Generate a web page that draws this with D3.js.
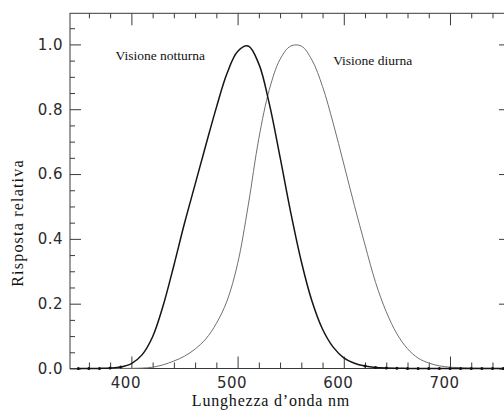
<!DOCTYPE html>
<html>
<head>
<meta charset="utf-8">
<script src="https://cdn.jsdelivr.net/npm/d3@7"></script>
<style>
  body { margin: 0; background: #fff; }
  svg { display: block; }
</style>
</head>
<body>
<svg id="chart" width="504" height="413"></svg>
<script>
// --------DATA--------------
// wavelength in nm, 10 nm steps
var wavelengths = [350, 360, 370, 380, 390, 400, 410, 420, 430, 440,
                   450, 460, 470, 480, 490, 500, 510, 520, 530, 540,
                   550, 560, 570, 580, 590, 600, 610, 620, 630, 640,
                   650, 660, 670, 680, 690, 700, 710, 720, 730, 740, 750];

// scotopic response (Visione notturna)
var nightResponse = [0, 0.0001, 0.0003, 0.0012, 0.0045, 0.015, 0.042, 0.098, 0.195, 0.318,
                     0.448, 0.568, 0.688, 0.805, 0.91, 0.978, 0.995, 0.94, 0.815, 0.652,
                     0.482, 0.33, 0.208, 0.121, 0.066, 0.033, 0.016, 0.0074, 0.0033, 0.0015,
                     0.0007, 0.0003, 0.0001, 0, 0, 0, 0, 0, 0, 0, 0];

// photopic response (Visione diurna)
var dayResponse = [0, 0, 0, 0, 0.0001, 0.0004, 0.0012, 0.004, 0.0116, 0.023,
                   0.038, 0.06, 0.091, 0.139, 0.208, 0.323, 0.503, 0.71, 0.862, 0.954,
                   0.995, 0.995, 0.952, 0.87, 0.757, 0.631, 0.503, 0.381, 0.265, 0.175,
                   0.107, 0.061, 0.032, 0.017, 0.0082, 0.0041, 0.0021, 0.001, 0.0005, 0.0003, 0.0001];

var xMajor = [400, 500, 600, 700];
var xMinor = [360, 380, 420, 440, 460, 480, 520, 540, 560, 580,
              620, 640, 660, 680, 720, 740];
var yMajor = [0, 0.2, 0.4, 0.6, 0.8, 1.0];
var yMinor = [0.05, 0.1, 0.15, 0.25, 0.3, 0.35, 0.45, 0.5, 0.55,
              0.65, 0.7, 0.75, 0.85, 0.9, 0.95, 1.05];

var xDomain = [342.2, 756.5];
var yDomain = [0, 1.096];

// --------SCALES--------------
var svg = d3.select("#chart");

var x = d3.scaleLinear().domain(xDomain).range([70, 510]);
var y = d3.scaleLinear().domain(yDomain).range([368.5, 13.3]);

var axisColor = "#3a3a3a";

// frame
svg.append("rect")
  .attr("x", x(xDomain[0]))
  .attr("y", y(yDomain[1]))
  .attr("width", x(xDomain[1]) - x(xDomain[0]))
  .attr("height", y(yDomain[0]) - y(yDomain[1]))
  .attr("fill", "none")
  .attr("stroke", axisColor)
  .attr("stroke-width", 1);

function styleAxis(g) {
  g.select(".domain").remove();
  g.selectAll(".tick line").attr("stroke", axisColor).attr("stroke-width", 1);
  g.selectAll(".tick text")
    .attr("fill", "#2a2a2a")
    .style("font-family", "'DejaVu Sans', sans-serif")
    .style("font-size", "15px")
    .style("letter-spacing", "0.5px");
}

// ----------X AXES---------------
svg.append("g")
  .attr("transform", "translate(0," + y(0) + ")")
  .call(d3.axisBottom(x).tickValues(xMajor).tickSize(-12).tickPadding(9).tickFormat(d3.format("d")))
  .call(styleAxis)
  .selectAll(".tick text").attr("dx", "-6");

svg.append("g")
  .attr("transform", "translate(0," + y(0) + ")")
  .call(d3.axisBottom(x).tickValues(xMinor).tickSize(-6).tickFormat(""))
  .call(styleAxis);

svg.append("g")
  .attr("transform", "translate(0," + y(yDomain[1]) + ")")
  .call(d3.axisTop(x).tickValues(xMajor).tickSize(-12).tickFormat(""))
  .call(styleAxis);

svg.append("g")
  .attr("transform", "translate(0," + y(yDomain[1]) + ")")
  .call(d3.axisTop(x).tickValues(xMinor).tickSize(-5).tickFormat(""))
  .call(styleAxis);

// ----------Y AXES---------------
svg.append("g")
  .attr("transform", "translate(" + x(xDomain[0]) + ",0)")
  .call(d3.axisLeft(y).tickValues(yMajor).tickSize(-11).tickPadding(7).tickFormat(d3.format(".1f")))
  .call(styleAxis);

svg.append("g")
  .attr("transform", "translate(" + x(xDomain[0]) + ",0)")
  .call(d3.axisLeft(y).tickValues(yMinor).tickSize(-5).tickFormat(""))
  .call(styleAxis);

svg.append("g")
  .attr("transform", "translate(" + x(xDomain[1]) + ",0)")
  .call(d3.axisRight(y).tickValues(yMajor).tickSize(-11).tickFormat(""))
  .call(styleAxis);

svg.append("g")
  .attr("transform", "translate(" + x(xDomain[1]) + ",0)")
  .call(d3.axisRight(y).tickValues(yMinor).tickSize(-5).tickFormat(""))
  .call(styleAxis);

// ----------CURVES---------------
var line = d3.line()
  .x(function(d) { return x(d[0]); })
  .y(function(d) { return y(d[1]); })
  .curve(d3.curveCatmullRom.alpha(0.5));

var nightData = wavelengths.map(function(w, i) { return [w, nightResponse[i]]; });
var dayData = wavelengths.map(function(w, i) { return [w, dayResponse[i]]; });

svg.append("path")
  .datum(dayData)
  .attr("d", line)
  .attr("fill", "none")
  .attr("stroke", "#707070")
  .attr("stroke-width", 1);

svg.append("path")
  .datum(nightData)
  .attr("d", line)
  .attr("fill", "none")
  .attr("stroke", "#151515")
  .attr("stroke-width", 1.5);

// small markers where the night curve lies on the baseline
svg.selectAll("circle.night")
  .data(nightData.filter(function(d) { return d[1] < 0.01; }))
  .enter()
  .append("circle")
  .attr("class", "night")
  .attr("cx", function(d) { return x(d[0]); })
  .attr("cy", function(d) { return y(d[1]); })
  .attr("r", 1.5)
  .attr("fill", "#111");

// ----------LABELS---------------
var serif = "'Liberation Serif', 'Times New Roman', serif";

svg.append("text")
  .attr("x", x(385))
  .attr("y", y(0.951))
  .style("font-family", serif)
  .style("font-size", "13.5px")
  .attr("fill", "#111")
  .text("Visione notturna");

svg.append("text")
  .attr("x", x(590))
  .attr("y", y(0.938))
  .style("font-family", serif)
  .style("font-size", "13.5px")
  .attr("fill", "#111")
  .text("Visione diurna");

svg.append("text")
  .attr("x", 271)
  .attr("y", 406)
  .attr("text-anchor", "middle")
  .style("font-family", serif)
  .style("font-size", "16px")
  .style("letter-spacing", "0.8px")
  .attr("fill", "#111")
  .text("Lunghezza d\u2019onda nm");

svg.append("text")
  .attr("transform", "translate(23,223) rotate(-90)")
  .attr("text-anchor", "middle")
  .style("font-family", serif)
  .style("font-size", "16px")
  .style("letter-spacing", "1.2px")
  .attr("fill", "#111")
  .text("Risposta relativa");
</script>
</body>
</html>
